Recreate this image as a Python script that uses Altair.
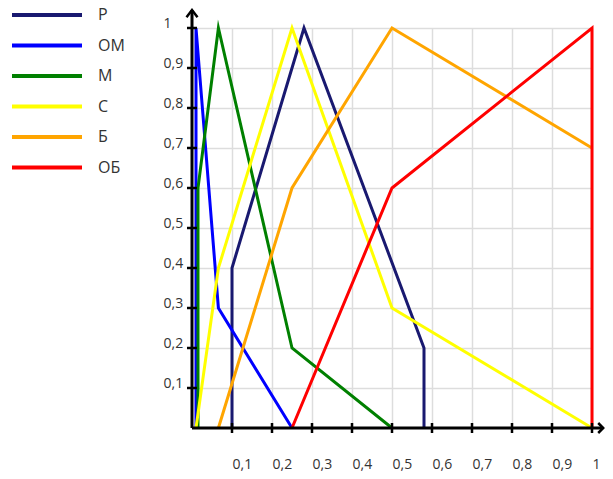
import altair as alt
import pandas as pd

# ---- data ----
series = ["Р", "ОМ", "М", "С", "Б", "ОБ"]
colors = ["#191970", "#0000ff", "#008000", "#ffff00", "#ffa500", "#ff0000"]

r_x = [0.1, 0.1, 0.28, 0.58, 0.58]
r_y = [0.0, 0.4, 1.0, 0.2, 0.0]
om_x = [0.01, 0.01, 0.066, 0.25]
om_y = [0.0, 1.0, 0.3, 0.0]
m_x = [0.015, 0.015, 0.066, 0.25, 0.5]
m_y = [0.0, 0.6, 1.0, 0.2, 0.0]
s_x = [0.01, 0.066, 0.25, 0.5, 1.0]
s_y = [0.0, 0.4, 1.0, 0.3, 0.0]
b_x = [0.066, 0.25, 0.5, 1.0]
b_y = [0.0, 0.6, 1.0, 0.7]
ob_x = [0.25, 0.5, 1.0, 1.0]
ob_y = [0.0, 0.6, 1.0, 0.0]

x_ticks = [0.1, 0.2, 0.3, 0.4, 0.5, 0.6, 0.7, 0.8, 0.9, 1.0]
y_ticks = [0.1, 0.2, 0.3, 0.4, 0.5, 0.6, 0.7, 0.8, 0.9, 1.0]
x_axis_end = 1.028
y_axis_end = 1.045

# ---- tables ----
rows = []
for name, xs, ys in zip(series, [r_x, om_x, m_x, s_x, b_x, ob_x],
                        [r_y, om_y, m_y, s_y, b_y, ob_y]):
    for i, (xv, yv) in enumerate(zip(xs, ys)):
        rows.append({"series": name, "x": xv, "y": yv, "order": i})
df = pd.DataFrame(rows)

axes_df = pd.DataFrame({"x": [0.0, 0.0], "x2": [x_axis_end, 0.0],
                        "y": [0.0, 0.0], "y2": [0.0, y_axis_end]})
xt_df = pd.DataFrame({"x": x_ticks, "y": [0.0] * len(x_ticks)})
yt_df = pd.DataFrame({"x": [0.0] * len(y_ticks), "y": y_ticks})
xarrow_df = pd.DataFrame({"x": [x_axis_end], "y": [0.0]})
yarrow_df = pd.DataFrame({"x": [0.0], "y": [y_axis_end]})

FONT = "Open Sans"
TXT = "#333333"
label_expr = "replace(format(datum.value, '.1~f'), '.', ',')"

xs_ = alt.Scale(domain=[0, 1], nice=False, zero=False)
ys_ = alt.Scale(domain=[0, 1], nice=False, zero=False)

x_axis = alt.Axis(values=x_ticks, labelExpr=label_expr, grid=True,
                  gridColor="#dddddd", gridWidth=1.5, domain=False,
                  ticks=False, tickSize=0, labelAlign="left",
                  labelBaseline="alphabetic", labelPadding=40,
                  labelFont=FONT, labelFontSize=14, labelColor=TXT,
                  labelFlush=False, labelOverlap=False, title=None)
y_axis = alt.Axis(values=y_ticks, labelExpr=label_expr, grid=True,
                  gridColor="#dddddd", gridWidth=1.5, domain=False,
                  ticks=False, tickSize=0, labelAlign="left",
                  labelBaseline="alphabetic", labelPadding=29,
                  labelOffset=-1, labelFont=FONT, labelFontSize=14,
                  labelColor=TXT, labelFlush=False, labelOverlap=False,
                  title=None)


def X(field="x"):
    return alt.X(f"{field}:Q", scale=xs_, axis=x_axis)


def Y(field="y"):
    return alt.Y(f"{field}:Q", scale=ys_, axis=y_axis)


lines = alt.Chart(df).mark_line(strokeWidth=3, strokeJoin="miter",
                                strokeMiterLimit=10).encode(
    x=X(), y=Y(),
    color=alt.Color("series:N", sort=series,
                    scale=alt.Scale(domain=series, range=colors),
                    legend=alt.Legend(orient="none", legendX=-154, legendY=-22,
                                      title=None, symbolType="M-5,0L5,0",
                                      symbolSize=196, symbolStrokeWidth=4,
                                      symbolFillColor="transparent",
                                      labelFont=FONT, labelFontSize=16,
                                      labelColor=TXT, labelOffset=42,
                                      rowPadding=13.5, padding=0)),
    order=alt.Order("order:Q"),
)

axis_lines = alt.Chart(axes_df).mark_rule(color="black", strokeWidth=3).encode(
    x=X(), x2="x2:Q", y=Y(), y2="y2:Q")

x_tick_marks = alt.Chart(xt_df).mark_point(
    shape="M0,-1L0,1", size=100, filled=False, color="black",
    strokeWidth=2.5, opacity=1).encode(x=X(), y=Y())

y_tick_marks = alt.Chart(yt_df).mark_point(
    shape="M-1,0L1,0", size=100, filled=False, color="black",
    strokeWidth=2.5, opacity=1).encode(x=X(), y=Y())

x_arrow = alt.Chart(xarrow_df).mark_point(
    shape="M-1,-1L0,0L-1,1", size=100, filled=False, color="black",
    strokeWidth=2.5, opacity=1).encode(x=X(), y=Y())

y_arrow = alt.Chart(yarrow_df).mark_point(
    shape="M-1,1.3L0,0L1,1.3", size=121, filled=False, color="black",
    strokeWidth=2.5, opacity=1).encode(x=X(), y=Y())

chart = alt.layer(lines, axis_lines, x_tick_marks, y_tick_marks, x_arrow, y_arrow).properties(
    width=400, height=400,
    padding={"left": 184, "top": 20, "right": 13, "bottom": 43},
    autosize=alt.AutoSizeParams(type="none"),
    background="white",
).configure_view(stroke=None)

chart.save("out.html", embed_options={"renderer": "svg", "actions": False})
